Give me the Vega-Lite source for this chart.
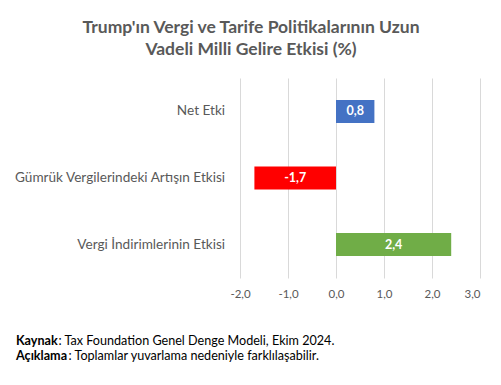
{
  "$schema": "https://vega.github.io/schema/vega-lite/v6.json",
  "padding": {"left": 14, "top": 19, "right": 12, "bottom": 18},
  "background": "white",
  "config": {
    "locale": {"number": {"decimal": ",", "thousands": ".", "grouping": [3], "currency": ["", ""], "minus": "-"}},
    "view": {"stroke": null},
    "font": "Lato",
    "axis": {"domain": false, "ticks": false, "labelColor": "#595959", "labelFont": "Lato"}
  },
  "title": {
    "text": ["Trump'ın Vergi ve Tarife Politikalarının Uzun", "Vadeli Milli Gelire Etkisi (%)"],
    "fontSize": 17.5, "fontWeight": "bold", "color": "#595959", "font": "Lato",
    "lineHeight": 21.5, "anchor": "middle", "frame": "bounds", "offset": 20
  },
  "spacing": 33,
  "datasets": {
    "etkiler": [
      {"kategori": "Net Etki", "deger": 0.8},
      {"kategori": "Gümrük Vergilerindeki Artışın Etkisi", "deger": -1.7},
      {"kategori": "Vergi İndirimlerinin Etkisi", "deger": 2.4}
    ],
    "notlar": [
      {"satir": "Kaynak", "baslik": "Kaynak", "aciklama": ": Tax Foundation Genel Denge Modeli, Ekim 2024."},
      {"satir": "Açıklama", "baslik": "Açıklama", "aciklama": ": Toplamlar yuvarlama nedeniyle farklılaşabilir."}
    ]
  },
  "vconcat": [
    {
      "width": 464,
      "height": 200,
      "data": {"name": "etkiler"},
      "encoding": {
        "y": {"field": "kategori", "type": "nominal", "sort": null,
              "scale": {"paddingInner": 0.655, "paddingOuter": 0.33}, "axis": null}
      },
      "layer": [
        {
          "mark": {"type": "bar"},
          "encoding": {
            "x": {"field": "deger", "type": "quantitative",
                  "scale": {"domain": [-6.6667, 3], "nice": false, "zero": false},
                  "axis": {"title": null, "values": [-2, -1, 0, 1, 2, 3], "format": ".1f", "grid": true, "gridColor": "#D9D9D9", "labelFontSize": 11.5, "labelPadding": 10}},
            "color": {"field": "kategori", "type": "nominal",
                      "scale": {"domain": ["Net Etki", "Gümrük Vergilerindeki Artışın Etkisi", "Vergi İndirimlerinin Etkisi"], "range": ["#4472C4", "#FF0000", "#70AD47"]},
                      "legend": null}
          }
        },
        {
          "mark": {"type": "text", "align": "right", "baseline": "middle", "fontSize": 13.6, "color": "#595959"},
          "encoding": {
            "x": {"datum": -2.31, "type": "quantitative", "scale": {"domain": [-6.6667, 3], "nice": false, "zero": false}, "axis": null},
            "text": {"field": "kategori", "type": "nominal"}
          }
        },
        {
          "mark": {"type": "text", "color": "white", "fontWeight": "bold", "fontSize": 12.5},
          "encoding": {
            "x": {"field": "deger", "type": "quantitative", "scale": {"domain": [-13.3334, 6], "nice": false, "zero": false}, "axis": null},
            "text": {"field": "deger", "type": "quantitative", "format": ".1f"}
          }
        }
      ],
      "resolve": {"scale": {"x": "independent"}}
    },
    {
      "width": 472,
      "height": 30,
      "data": {"name": "notlar"},
      "encoding": {
        "y": {"field": "satir", "type": "nominal", "sort": null, "scale": {"paddingInner": 0, "paddingOuter": 0}, "axis": null}
      },
      "layer": [
        {
          "mark": {"type": "text", "align": "left", "fontWeight": "bold", "fontSize": 12.6, "color": "black"},
          "encoding": {"x": {"value": 0}, "text": {"field": "baslik"}}
        },
        {
          "transform": [{"filter": "datum.satir === 'Kaynak'"}],
          "mark": {"type": "text", "align": "left", "dx": 42.5, "fontSize": 12.6, "color": "black"},
          "encoding": {"x": {"value": 0}, "text": {"field": "aciklama"}}
        },
        {
          "transform": [{"filter": "datum.satir === 'Açıklama'"}],
          "mark": {"type": "text", "align": "left", "dx": 52.5, "fontSize": 12.6, "color": "black"},
          "encoding": {"x": {"value": 0}, "text": {"field": "aciklama"}}
        }
      ]
    }
  ]
}
